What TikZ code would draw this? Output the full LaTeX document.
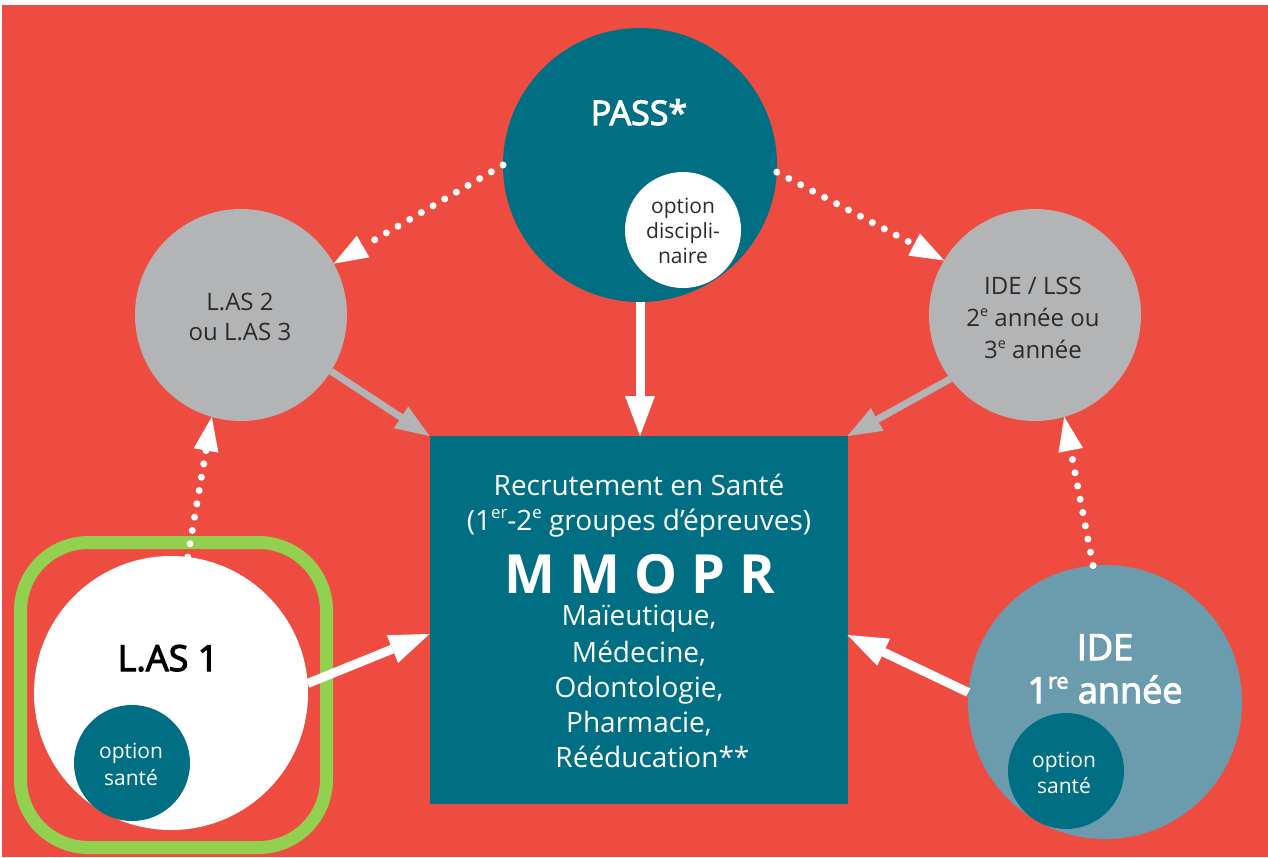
\documentclass[tikz,border=0pt]{standalone}
\usepackage{fontspec}
\setmainfont{Open Sans}
\newfontfamily\semib[FakeBold=3]{Open Sans}
\usetikzlibrary{arrows.meta}
\definecolor{bgred}{HTML}{EF4C41}
\definecolor{cteal}{HTML}{006F84}
\definecolor{cgray}{HTML}{B3B4B6}
\definecolor{cblue}{HTML}{6A9CAD}
\definecolor{cgreen}{HTML}{92D050}
\definecolor{cdark}{HTML}{2B2B2B}
\newcommand\sups[1]{\raisebox{0.4em}{\scalebox{0.6}{#1}}}
\tikzset{
  circ/.style={circle, inner sep=0pt, outer sep=0pt, draw=none},
  lbl/.style={anchor=base, inner sep=0pt, outer sep=0pt},
  solidw/.style={draw=white, line width=9pt, -{Triangle[length=40pt,width=30pt,line width=0pt]}},
  grayarr/.style={draw=cgray, line width=7pt, -{Triangle[length=34pt,width=26pt,line width=0pt]}},
  dotarr/.style={draw=white, line width=7pt, line cap=round, dash pattern=on 0pt off 13.5pt, -{Triangle[length=34pt,width=25pt,line width=0pt]}},
  fs/.style={font=\fontsize{#1}{#1}\selectfont}
}
\begin{document}
\begin{tikzpicture}[x=1pt,y=-1pt]
\useasboundingbox (0,0) rectangle (1268,857);
\fill[white] (0,0) rectangle (1268,857);
\fill[bgred] (2,5) rectangle (1268,857);
% highlight frame
\draw[cgreen, line width=13pt, rounded corners=68pt] (20.5,542.5) rectangle (326.5,847.5);
% shapes
\node[circ, fill=cteal, minimum size=274pt] (pass) at (640,165) {};
\node[circ, fill=white, minimum size=116pt] (optd) at (683,230) {};
\node[circ, fill=cgray, minimum size=212pt] (las2) at (241,315) {};
\node[circ, fill=cgray, minimum size=212pt] (idelss) at (1035,315) {};
\node[rectangle, fill=cteal, inner sep=0pt, outer sep=0pt, minimum width=418pt, minimum height=368pt] (box) at (638.5,620) {};
\node[circ, fill=white, minimum size=274pt] (las1) at (171,693) {};
\node[circ, fill=cteal, minimum size=116pt] (opt1) at (132,763) {};
\node[circ, fill=cblue, minimum size=274pt] (ide1) at (1105,702) {};
\node[circ, fill=cteal, minimum size=116pt] (opt2) at (1066,771) {};
% connectors
\draw[dotarr] (pass.180) -- (las2.29);
\draw[dotarr] (pass.-3) -- (idelss.149);
\draw[solidw] (pass.south) -- (pass.south |- box.north);
\draw[grayarr] (las2.-32) -- (box.north west);
\draw[grayarr] (idelss.-143.5) -- (box.north east);
\draw[dotarr] (las1.83) -- (las2.-106);
\draw[dotarr] (ide1.95) -- (idelss.-74);
\draw[solidw] (las1.4) -- ([yshift=-14pt]box.west);
\draw[solidw] (ide1.176) -- ([yshift=-15pt]box.east);
% texts
\node[lbl, fs=34, text=white] (tpass) at (639,125) {\semib PASS*};
\node[lbl, fs=21, text=cdark] (tod1) at (683,213) {option};
\node[lbl, fs=21, text=cdark] (tod2) at (683,238) {discipli-};
\node[lbl, fs=21, text=cdark] (tod3) at (683,263) {naire};
\node[lbl, fs=24, text=cdark] (tl21) at (240,310) {L.AS 2};
\node[lbl, fs=24, text=cdark] (tl22) at (240,340) {ou L.AS 3};
\node[lbl, fs=24, text=cdark] (tls1) at (1033,294) {IDE / LSS};
\node[lbl, fs=24, text=cdark] (tls2) at (1033,326) {2\sups{e} année ou};
\node[lbl, fs=24, text=cdark] (tls3) at (1033,358) {3\sups{e} année};
\node[lbl, fs=28, text=white] (tb1) at (639,495) {Recrutement en Santé};
\node[lbl, fs=28, text=white] (tb2) at (639,530) {(1\sups{er}-2\sups{e} groupes d’épreuves)};
\node[lbl, fs=54, text=white] (tb3) at (640,593) {\bfseries M M O P R};
\node[lbl, fs=28, text=white] (tb4) at (639,625) {Maïeutique,};
\node[lbl, fs=28, text=white] (tb5) at (639,662) {Médecine,};
\node[lbl, fs=28, text=white] (tb6) at (639,697) {Odontologie,};
\node[lbl, fs=28, text=white] (tb7) at (639,732) {Pharmacie,};
\node[lbl, fs=28, text=white] (tb8) at (637,767) {Rééducation\rlap{**}};
\node[lbl, fs=36, text=black] (tlas1) at (168,671) {\semib L.AS 1};
\node[lbl, fs=21, text=white] (to11) at (131,758) {option};
\node[lbl, fs=21, text=white] (to12) at (131,785) {santé};
\node[lbl, fs=36, text=white] (tide1) at (1105,660) {\semib IDE};
\node[lbl, fs=36, text=white] (tide2) at (1105,703) {\semib 1\sups{re} année};
\node[lbl, fs=21, text=white] (to21) at (1064,767) {option};
\node[lbl, fs=21, text=white] (to22) at (1064,793) {santé};
\end{tikzpicture}
\end{document}
